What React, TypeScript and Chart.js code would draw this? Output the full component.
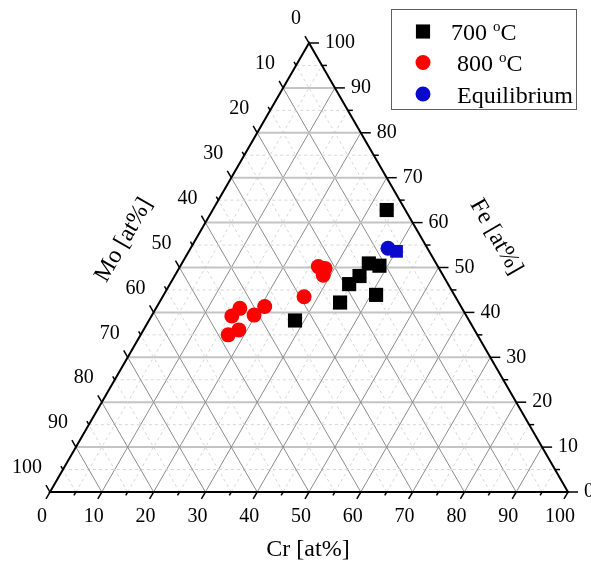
import React, { useEffect, useRef } from 'react';
import { Chart, registerables } from 'chart.js';

Chart.register(...registerables);

// ---- data (ternary compositions, at%) ----
const tickValues = [0, 10, 20, 30, 40, 50, 60, 70, 80, 90, 100];

const cr700 = [33.6, 36.1, 38.4, 35.7, 34.6, 41.0, 34.9, 28.2];
const fe700 = [62.8, 50.9, 50.4, 48.1, 46.3, 43.9, 42.2, 38.2];
const mo700 = [3.6, 13.0, 11.2, 16.2, 19.1, 15.1, 22.9, 33.6];

const cr800 = [26.7, 28.2, 28.6, 27.3, 20.8, 16.2, 19.7, 15.5, 18.4, 16.9];
const fe800 = [50.2, 49.8, 48.3, 43.5, 41.3, 40.9, 39.4, 39.2, 36.1, 35.0];
const mo800 = [23.1, 22.0, 23.1, 29.2, 37.9, 42.9, 40.9, 45.3, 45.5, 48.1];

const crEq = [38.1, 40.1];
const feEq = [54.3, 53.6];
const moEq = [7.6, 6.3];

const seriesLabels = ['700 °C', ' 800 °C', ' Equilibrium'];
const axisTitles = { cr: 'Cr [at%]', fe: 'Fe [at%]', mo: 'Mo [at%]' };

const SQ = Math.sqrt(3) / 2;
function toXY(cr: number[], fe: number[], mo: number[]) {
  return cr.map((c, i) => {
    const t = c + fe[i] + mo[i];
    const cc = (c / t) * 100;
    const ff = (fe[i] / t) * 100;
    return { x: cc + ff / 2, y: ff * SQ };
  });
}

const SERIF = "'Liberation Serif', 'Times New Roman', serif";

const ternaryPlugin = {
  id: 'ternaryFrame',
  beforeDatasetsDraw(chart: any) {
    const { ctx, scales } = chart;
    const xs = scales.x;
    const ys = scales.y;
    const P = (cr: number, fe: number): [number, number] => [
      xs.getPixelForValue(cr + fe / 2),
      ys.getPixelForValue(fe * SQ),
    ];
    ctx.save();
    // minor grid (dashed)
    for (let k = 5; k < 100; k += 5) {
      const major = k % 10 === 0;
      const lines: [[number, number], [number, number], boolean][] = [
        [P(0, k), P(100 - k, k), true], // Fe = k (horizontal)
        [P(k, 0), P(k, 100 - k), false], // Cr = k
        [P(100 - k, 0), P(0, 100 - k), false], // Mo = k
      ];
      for (const [a, b, horiz] of lines) {
        ctx.beginPath();
        if (major) {
          ctx.setLineDash([]);
          ctx.strokeStyle = horiz ? '#c4c4c4' : '#8c8c8c';
          ctx.lineWidth = horiz ? 2 : 1;
        } else {
          ctx.setLineDash([3, 3]);
          ctx.strokeStyle = '#d6d6d6';
          ctx.lineWidth = 1;
        }
        ctx.moveTo(a[0], a[1]);
        ctx.lineTo(b[0], b[1]);
        ctx.stroke();
      }
    }
    ctx.setLineDash([]);
    // ticks
    ctx.strokeStyle = '#000';
    ctx.lineWidth = 1.5;
    for (let k = 0; k <= 100; k += 5) {
      const major = k % 10 === 0;
      const len = major ? 8 : 4;
      // bottom (Cr)
      let p = P(k, 0);
      ctx.beginPath();
      ctx.moveTo(p[0], p[1]);
      ctx.lineTo(p[0] - 0.5 * len, p[1] + SQ * len);
      ctx.stroke();
      // right (Fe)
      p = P(100 - k, k);
      ctx.beginPath();
      ctx.moveTo(p[0], p[1]);
      ctx.lineTo(p[0] + (major ? 10 : 5), p[1]);
      ctx.stroke();
      // left (Mo)
      p = P(0, 100 - k);
      ctx.beginPath();
      ctx.moveTo(p[0], p[1]);
      ctx.lineTo(p[0] - 0.5 * len, p[1] - SQ * len);
      ctx.stroke();
    }
    // triangle frame
    const A = P(0, 0), B = P(100, 0), C = P(0, 100);
    ctx.beginPath();
    ctx.moveTo(A[0], A[1]);
    ctx.lineTo(B[0], B[1]);
    ctx.lineTo(C[0], C[1]);
    ctx.closePath();
    ctx.lineWidth = 2;
    ctx.strokeStyle = '#000';
    ctx.stroke();

    // tick labels
    ctx.fillStyle = '#000';
    ctx.font = `20px ${SERIF}`;
    ctx.textBaseline = 'middle';
    for (const v of tickValues) {
      let p = P(v, 0);
      ctx.textAlign = 'center';
      ctx.fillText(String(v), p[0] - 8, p[1] + 25);
      p = P(100 - v, v);
      ctx.textAlign = 'left';
      ctx.fillText(String(v), p[0] + 16, p[1]);
      p = P(0, 100 - v);
      ctx.textAlign = 'right';
      ctx.fillText(String(v), p[0] - 8, p[1] - 24);
    }
    // axis titles
    ctx.font = `24px ${SERIF}`;
    ctx.textAlign = 'center';
    ctx.fillText(axisTitles.cr, 308, 550);
    ctx.save();
    ctx.translate(124, 240);
    ctx.rotate(-Math.PI / 3);
    ctx.fillText(axisTitles.mo, 0, 0);
    ctx.restore();
    ctx.save();
    ctx.translate(496, 237);
    ctx.rotate(Math.PI / 3);
    ctx.fillText(axisTitles.fe, 0, 0);
    ctx.restore();
    ctx.restore();
  },
  afterDraw(chart: any) {
    const { ctx } = chart;
    ctx.save();
    // legend box
    ctx.strokeStyle = '#606060';
    ctx.lineWidth = 1;
    ctx.strokeRect(391.5, 9.5, 185, 100);
    const rowsY = [31.5, 62.5, 94];
    chart.data.datasets.forEach((ds: any, i: number) => {
      if (ds.hideInLegend) return;
      const cy = rowsY[i];
      const cx = 423;
      const style = Array.isArray(ds.pointStyle) ? ds.pointStyle[0] : ds.pointStyle;
      const r = Array.isArray(ds.pointRadius) ? ds.pointRadius[0] : ds.pointRadius;
      ctx.fillStyle = ds.backgroundColor;
      ctx.beginPath();
      if (style === 'rect') {
        const s = r * Math.SQRT1_2;
        ctx.rect(cx - s, cy - s, 2 * s, 2 * s);
      } else {
        ctx.arc(cx, cy, r, 0, Math.PI * 2);
      }
      ctx.fill();
      // label with superscript o for degree
      ctx.fillStyle = '#000';
      ctx.textBaseline = 'alphabetic';
      ctx.textAlign = 'left';
      let x = 451;
      const base = cy + 8.5;
      const parts = String(ds.label).split('°');
      parts.forEach((part: string, j: number) => {
        ctx.font = `24px ${SERIF}`;
        ctx.fillText(part, x, base);
        x += ctx.measureText(part).width;
        if (j < parts.length - 1) {
          ctx.font = `15px ${SERIF}`;
          ctx.fillText('o', x, base - 9);
          x += ctx.measureText('o').width;
        }
      });
    });
    ctx.restore();
  },
};

export default function App() {
  const canvasRef = useRef<HTMLCanvasElement | null>(null);

  useEffect(() => {
    if (!canvasRef.current) return;
    const chart = new Chart(canvasRef.current, {
      type: 'scatter',
      data: {
        datasets: [
          {
            label: seriesLabels[0],
            data: toXY(cr700, fe700, mo700),
            pointStyle: 'rect',
            pointRadius: 10,
            backgroundColor: '#000000',
            borderColor: '#000000',
            borderWidth: 0,
          },
          {
            label: seriesLabels[1],
            data: toXY(cr800, fe800, mo800),
            pointStyle: 'circle',
            pointRadius: 7.5,
            backgroundColor: '#ff0000',
            borderColor: '#ff0000',
            borderWidth: 0,
          },
          {
            label: seriesLabels[2],
            data: toXY(crEq, feEq, moEq),
            pointStyle: ['circle', 'rect'],
            pointRadius: [7.5, 9],
            backgroundColor: '#0a0acc',
            borderColor: '#0a0acc',
            borderWidth: 0,
          },
        ] as any,
      },
      options: {
        animation: false,
        responsive: true,
        maintainAspectRatio: false,
        layout: { padding: { left: 50, right: 23, top: 43, bottom: 78 } },
        scales: {
          x: { type: 'linear', min: 0, max: 100, display: false },
          y: { type: 'linear', min: 0, max: 100 * SQ, display: false },
        },
        plugins: {
          legend: { display: false },
          tooltip: { enabled: false },
        },
        elements: { point: { hoverRadius: 0 } },
        datasets: { scatter: { clip: false } as any },
      } as any,
      plugins: [ternaryPlugin],
    });
    return () => chart.destroy();
  }, []);

  return (
    <div style={{ position: 'fixed', left: 0, top: 0, width: 591, height: 570, background: '#fff' }}>
      <canvas ref={canvasRef} />
    </div>
  );
}
